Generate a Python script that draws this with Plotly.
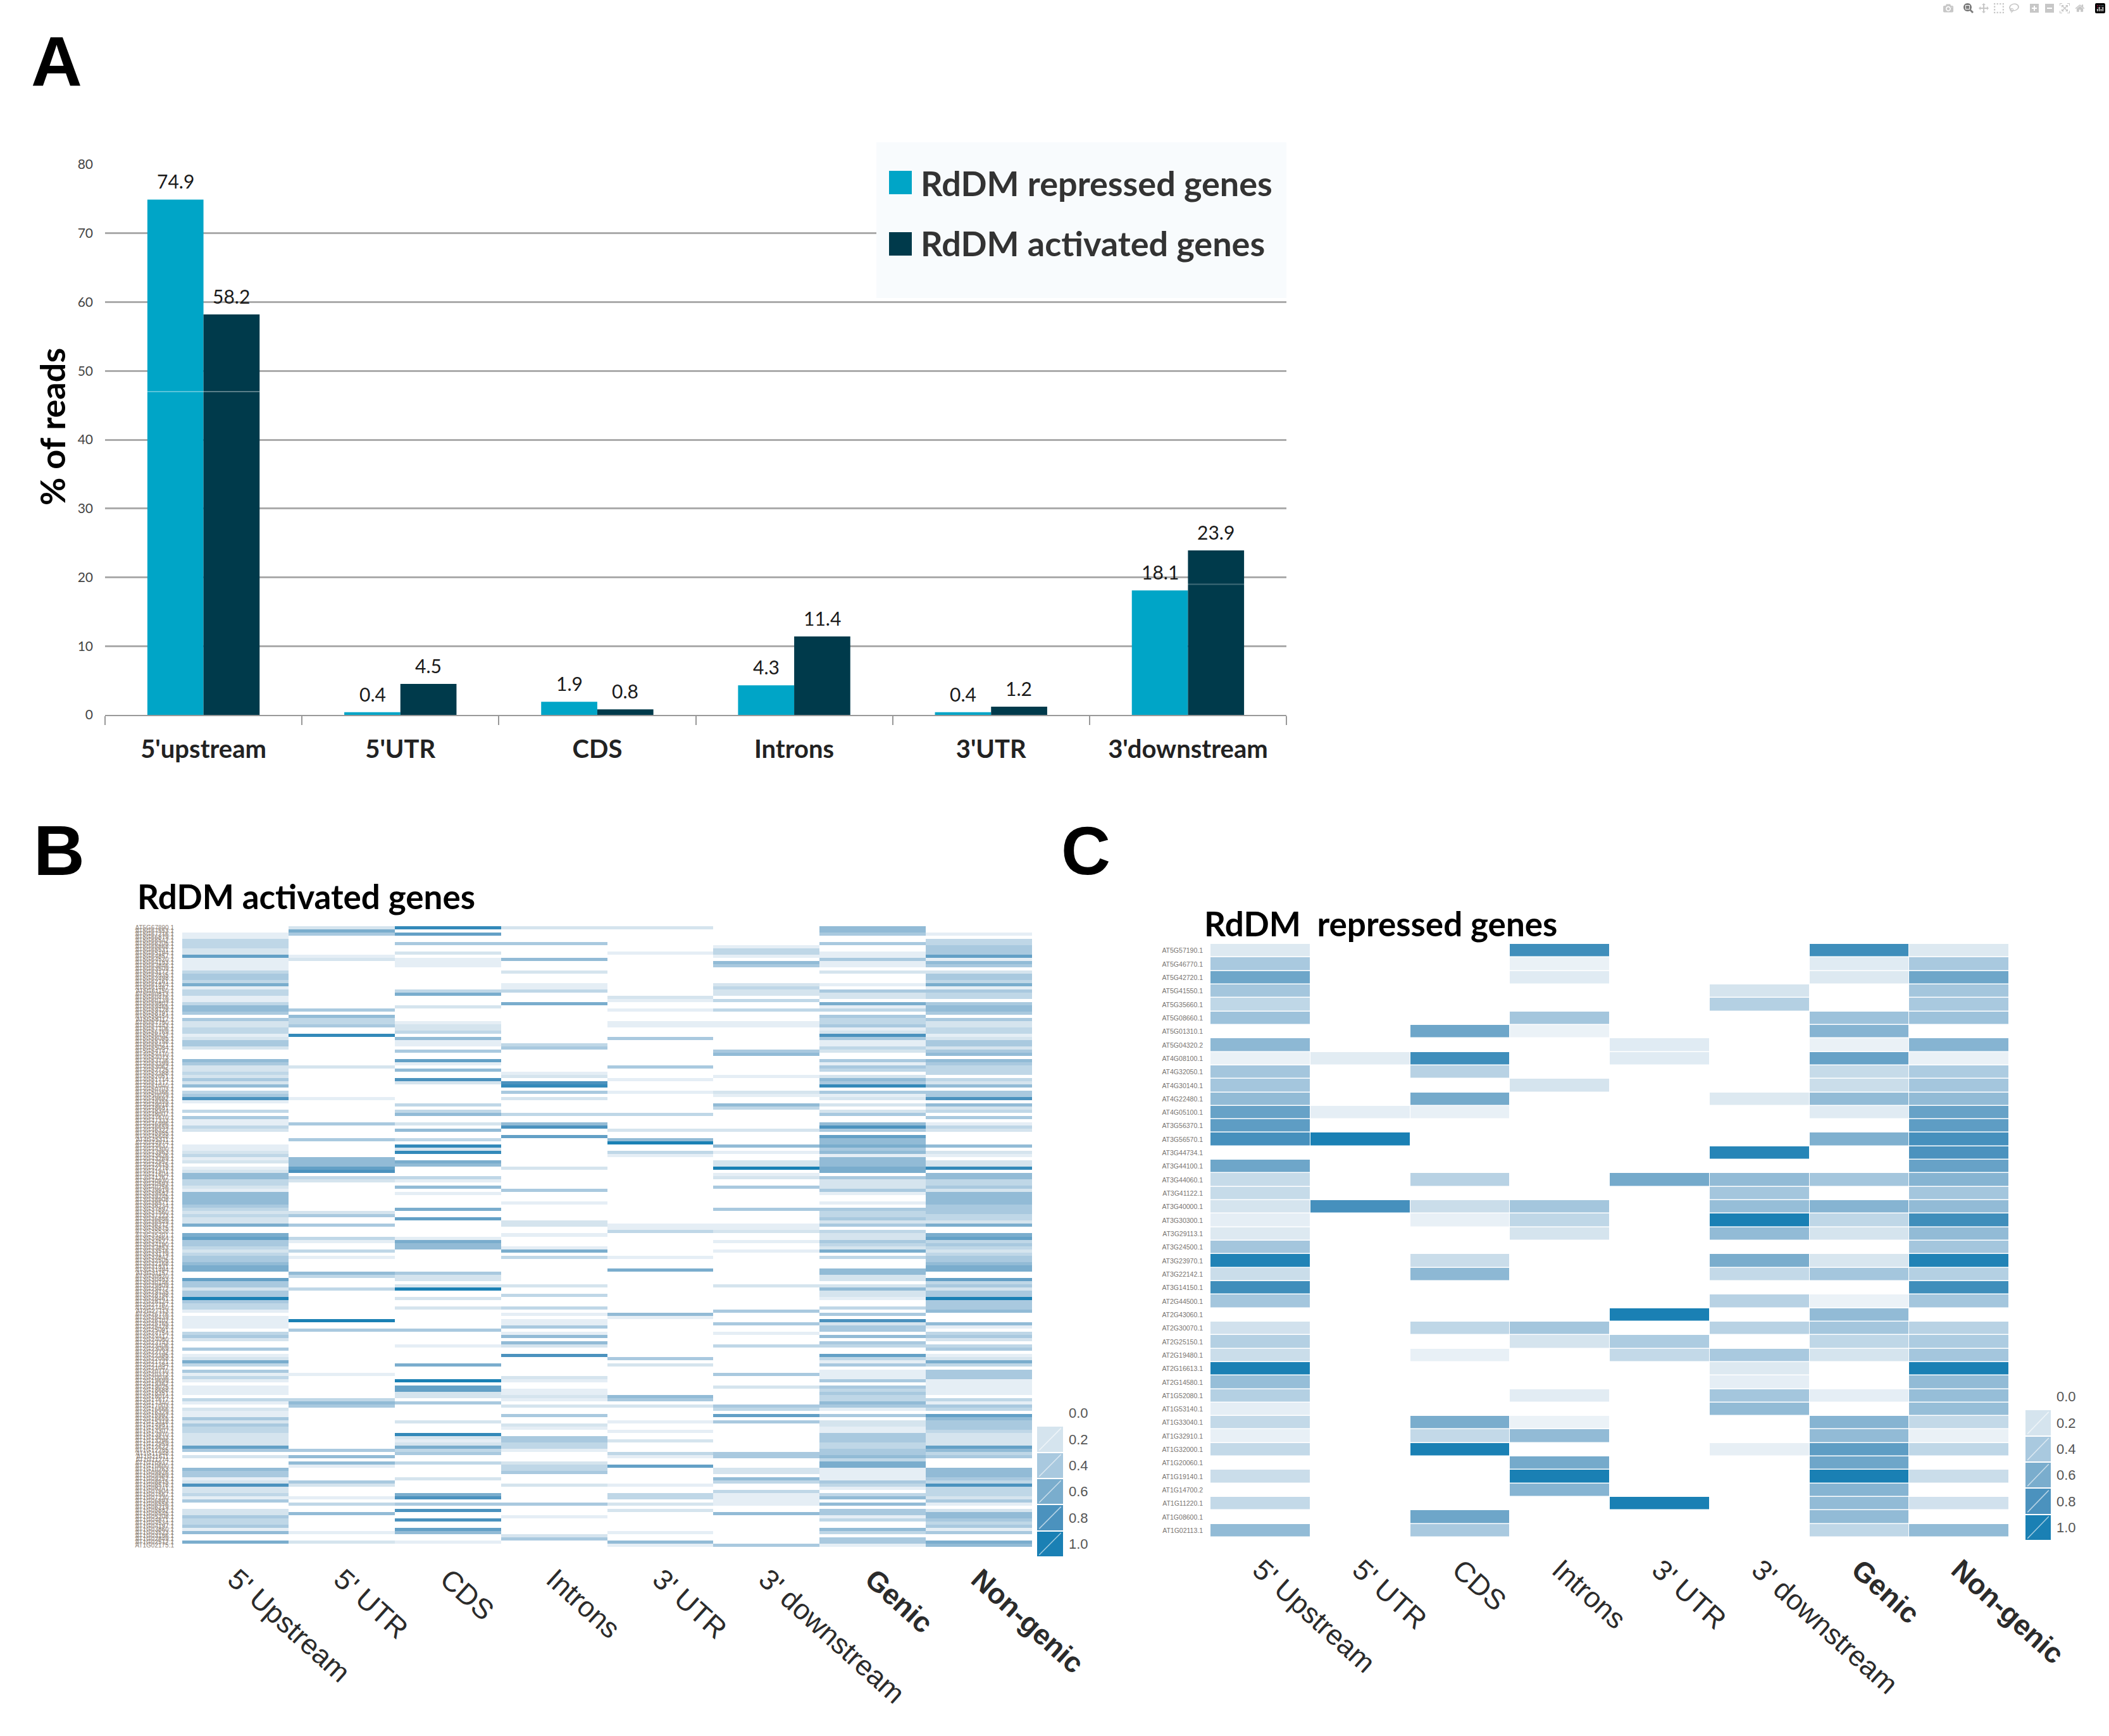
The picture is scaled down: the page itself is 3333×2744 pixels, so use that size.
import plotly.graph_objects as go

W, H = 3333, 2744

# ---- Panel A
regions = ["5'upstream", "5'UTR", "CDS", "Introns", "3'UTR", "3'downstream"]
repressed = [74.9, 0.4, 1.9, 4.3, 0.4, 18.1]
activated = [58.2, 4.5, 0.8, 11.4, 1.2, 23.9]

# ---- Panels B and C column labels
heat_cols = ["5' Upstream", "5' UTR", "CDS", "Introns", "3' UTR", "3' downstream", "<b>Genic</b>", "<b>Non-genic</b>"]
legend_labels = ["0.0", "0.2", "0.4", "0.6", "0.8", "1.0"]
legend_values = [None, 0.2, 0.4, 0.6, 0.8, 1.0]

# ---- Panel B: levels in tenths (0 = blank cell), read row by row
b_upstream = [
    0,0,1,1,3,3,3,2,2,7, 1,1,1,1,3,4,4,3,6,1, 3,3,1,1,3,5,5,4,0,4, 2,2,3,3,1,2,4,4,2,0, 0,0,5,4,2,2,3,2,4,2,
    5,0,3,4,8,1,0,0,3,0, 4,1,1,3,2,0,0,0,0,1, 1,2,3,1,2,0,1,2,5,5, 3,3,2,1,5,5,5,5,4,3, 2,3,2,2,6,0,0,6,
    7,4,4,3,2,3,4,4,5,6, 6,0,0,7,4,4,2,4,4,10, 4,3,3,1,0,1,1,1,1,0, 3,4,2,0,0,4,0,1,2,6, 3,0,4,1,3,1,0,1,1,1,
    0,3,1,0,2,1,1,4,2,4, 3,3,2,2,2,2,7,4,0,2, 0,0,0,5,4,4,1,2,8,2, 2,3,1,4,0,0,2,2,4,3, 3,4,1,5,0,0,6,0]
b_utr5 = [
    2,6,4,0,0,0,0,0,0,1, 2,0,0,0,0,0,0,0,0,0, 0,0,0,0,0,0,4,0,5,3, 3,4,0,0,9,0,0,0,0,0, 0,0,0,0,2,0,0,0,0,0,
    0,0,0,0,1,0,0,0,0,0, 0,0,4,0,0,0,0,4,0,0, 0,0,0,5,5,5,7,8,0,3, 2,0,0,0,0,0,0,0,0,0, 2,4,0,0,4,0,0,0,
    3,1,0,0,3,0,1,0,0,0, 0,5,3,0,0,0,3,0,0,0, 0,0,0,0,0,0,10,0,0,4, 0,0,0,0,0,0,0,0,0,0, 0,0,0,1,0,0,0,0,0,0,
    0,3,5,4,0,0,0,0,0,0, 0,0,0,0,0,0,0,4,0,5, 0,5,1,0,0,0,0,4,2,0, 0,0,1,0,3,0,0,5,0,0, 0,0,0,1,0,0,2,0]
b_cds = [
    9,0,7,0,0,4,0,0,2,0, 1,1,1,0,0,0,0,0,0,0, 3,6,0,0,0,2,0,0,0,0, 1,2,2,3,0,5,1,1,0,4, 0,0,7,1,0,5,0,0,8,2,
    0,0,0,0,0,0,3,0,3,5, 0,0,2,0,5,0,0,3,0,9, 2,9,0,0,6,5,0,0,0,3, 1,0,5,0,1,0,0,0,0,6, 0,0,7,0,0,0,0,0,
    1,6,5,5,0,0,0,0,0,0, 0,4,2,2,0,2,10,0,0,2, 0,0,2,0,0,0,0,0,0,4, 0,0,0,0,1,0,0,0,0,0, 6,0,0,0,0,10,0,7,7,2,
    2,0,4,0,0,0,0,0,2,0, 0,0,9,2,1,2,6,3,4,0, 0,3,0,0,0,0,2,0,0,0, 0,6,8,0,4,0,8,0,0,8, 0,0,7,5,0,0,1,0]
b_introns = [
    2,0,0,0,0,4,0,0,0,0, 5,0,0,0,2,0,0,0,1,1, 3,0,0,0,6,0,0,0,0,0, 0,0,0,0,0,0,0,3,4,0, 0,0,0,0,0,0,1,2,0,8,
    9,0,4,0,2,0,0,0,0,3, 0,0,5,8,0,0,7,0,0,0, 0,0,0,0,0,0,2,0,0,0, 0,0,0,4,0,0,0,1,0,0, 0,0,0,2,2,0,0,1,
    0,0,0,1,6,0,3,0,0,0, 0,0,0,0,0,2,0,0,3,0, 0,0,3,0,1,0,1,1,4,0, 1,5,0,5,2,0,0,8,0,0, 0,0,0,0,2,1,0,0,1,1,
    2,1,0,2,0,0,4,0,0,2, 1,0,0,4,4,3,3,1,0,0, 0,2,3,3,4,0,0,0,2,0, 0,0,0,0,4,0,0,0,1,0, 0,0,0,0,2,4,0,0]
b_utr3 = [
    2,0,0,0,0,0,0,0,1,0, 0,0,0,0,0,0,0,0,0,0, 0,0,2,1,0,0,1,0,0,0, 1,1,0,0,0,4,0,0,0,0, 0,0,0,0,4,0,0,0,1,0,
    0,0,1,0,0,0,0,0,0,3, 0,0,0,0,2,0,0,5,10,0, 0,3,1,0,0,0,0,0,0,0, 0,0,0,0,0,0,0,0,0,0, 0,0,0,0,1,1,3,0,
    0,0,0,0,0,0,1,0,0,0, 6,0,0,0,0,0,0,0,0,0, 0,0,0,0,5,1,0,0,0,0, 0,0,0,0,0,0,0,0,4,0, 2,0,0,0,0,0,0,0,0,0,
    5,4,0,2,0,0,0,0,1,0, 0,1,0,0,2,0,0,0,3,1, 0,0,7,0,0,0,0,0,1,0, 0,3,3,0,2,0,2,0,0,0, 0,0,0,1,0,0,5,1]
b_down3 = [
    0,0,0,0,0,0,1,3,3,1, 0,5,4,0,0,0,0,0,2,3, 2,2,0,3,0,0,3,0,0,0, 1,1,0,0,0,0,0,0,0,4, 5,0,0,0,0,0,0,1,0,0,
    0,0,2,1,0,0,5,3,0,0, 0,0,0,0,2,0,0,0,0,5, 0,1,0,0,2,2,10,0,1,2, 0,0,4,0,0,0,0,0,0,4, 0,0,0,0,1,1,2,0,
    0,1,0,0,1,0,0,0,0,0, 0,0,0,0,0,2,0,0,0,0, 0,0,0,4,0,0,0,4,0,0, 1,0,0,0,3,0,0,0,0,0, 0,0,0,4,0,0,0,2,0,0,
    0,0,0,4,3,0,7,0,4,0, 0,0,0,0,0,0,0,0,4,4, 0,0,0,2,2,0,5,3,0,0, 3,1,1,1,1,0,0,5,0,0, 0,0,0,0,0,0,0,4]
b_genic = [
    5,5,4,0,0,4,0,0,1,1, 4,1,1,0,2,0,0,0,1,0, 4,2,2,0,6,1,3,0,4,3, 3,4,1,2,8,4,1,1,3,2, 0,0,4,1,4,3,0,2,5,4,
    9,0,4,1,2,0,2,0,2,4, 0,0,5,8,4,0,7,5,5,6, 4,5,1,5,5,5,6,6,0,4, 2,2,2,4,1,0,0,1,0,4, 3,3,4,2,4,0,3,2,
    2,4,3,2,6,0,3,0,0,0, 5,5,2,2,0,2,5,2,2,1, 0,0,3,0,4,0,8,2,4,4, 0,5,0,4,3,0,0,7,3,1, 4,0,1,1,1,4,0,4,3,4,
    3,3,5,4,1,0,4,0,2,2, 1,1,4,4,4,3,3,4,4,5, 3,6,6,1,1,1,1,4,3,1, 0,3,5,0,5,0,4,4,1,3, 0,0,5,3,0,4,4,1]
b_nongenic = [
    0,0,1,0,3,3,4,4,4,7, 1,5,4,0,2,4,4,3,6,1, 4,3,3,0,4,5,5,4,0,4, 2,2,3,3,1,2,4,4,2,4, 5,0,5,4,3,3,3,0,3,2,
    5,0,4,4,8,0,5,2,3,0, 4,0,1,3,2,0,0,0,0,5, 0,2,1,0,2,2,9,0,5,5, 3,3,4,2,5,5,5,5,4,4, 4,3,3,2,6,0,0,6,
    7,3,4,3,2,3,4,4,5,6, 6,0,0,7,3,4,2,4,4,10, 4,4,4,5,0,0,0,5,1,0, 3,4,2,0,3,4,0,1,2,6, 3,0,4,4,4,1,1,1,1,1,
    0,3,1,4,3,0,7,5,4,4, 4,3,2,2,2,2,7,5,3,4, 0,0,0,5,5,5,4,3,8,3, 3,3,2,4,1,0,2,5,5,4, 3,4,1,4,0,0,6,5]

# ---- Panel C: gene ids and per-column values (0 = blank cell)
c_genes = ["AT5G57190.1","AT5G46770.1","AT5G42720.1","AT5G41550.1","AT5G35660.1","AT5G08660.1","AT5G01310.1","AT5G04320.2",
           "AT4G08100.1","AT4G32050.1","AT4G30140.1","AT4G22480.1","AT4G05100.1","AT3G56370.1","AT3G56570.1","AT3G44734.1",
           "AT3G44100.1","AT3G44060.1","AT3G41122.1","AT3G40000.1","AT3G30300.1","AT3G29113.1","AT3G24500.1","AT3G23970.1",
           "AT3G22142.1","AT3G14150.1","AT2G44500.1","AT2G43060.1","AT2G30070.1","AT2G25150.1","AT2G19480.1","AT2G16613.1",
           "AT2G14580.1","AT1G52080.1","AT1G53140.1","AT1G33040.1","AT1G32910.1","AT1G32000.1","AT1G20060.1","AT1G19140.1",
           "AT1G14700.2","AT1G11220.1","AT1G08600.1","AT1G02113.1"]
c_upstream = [.15,.4,.65,.42,.3,.45,0,.52,.07,.42,.42,.5,.68,.72,.82,0,.65,.27,.27,.2,.1,.15,.42,.97,.25,.85,.42,0,.22,.35,.25,1.0,.48,.35,.1,.28,.08,.28,0,.25,0,.28,0,.5]
c_utr5 = [0,0,0,0,0,0,0,0,.12,0,0,0,.1,0,1.0,0,0,0,0,.82,0,0,0,0,0,0,0,0,0,0,0,0,0,0,0,0,0,0,0,0,0,0,0,0]
c_cds = [0,0,0,0,0,0,.65,0,.85,.33,0,.62,.08,0,0,0,0,.33,0,.25,.08,0,0,.25,.52,0,0,0,.3,0,.08,0,0,0,0,.6,.28,1.0,0,0,0,0,.65,.4]
c_introns = [.85,.07,.13,0,0,.42,.06,0,0,0,.2,0,0,0,0,0,0,0,0,.42,.3,.2,0,0,0,0,0,0,.42,.2,0,0,0,.12,0,.06,.5,0,.62,1.0,.55,0,0,0]
c_utr3 = [0,0,0,0,0,0,0,.13,.13,0,0,0,0,0,0,0,0,.62,0,0,0,0,0,0,0,0,0,1.0,0,.38,.28,0,0,0,0,0,0,0,0,0,0,1.0,0,0]
c_down3 = [0,0,0,.2,.35,0,0,0,0,0,0,.15,0,0,0,.95,0,.5,.42,.48,1.0,.5,0,.6,.28,0,.33,0,.33,0,.4,.15,.1,.42,.5,0,0,.09,0,0,0,0,0,0]
c_genic = [.85,.13,.15,0,0,.45,.55,.07,.68,.27,.25,.5,.13,0,.58,0,0,.42,0,.55,.3,.2,0,.18,.42,0,.06,.5,.42,.3,.2,0,0,.1,0,.55,.5,.72,.65,1.0,.55,.5,.5,.3]
c_nongenic = [.15,.4,.65,.42,.4,.45,0,.55,.07,.38,.42,.5,.68,.72,.82,.8,.68,.55,.42,.5,.85,.5,.42,.97,.35,.85,.42,0,.33,.38,.42,1.0,.5,.48,.48,.28,.07,.3,0,.25,0,.22,0,.5]

COLORSCALE = [[0, "#f5f8fb"], [0.2, "#d5e4ee"], [0.4, "#a9c9df"], [0.6, "#7aadcd"], [0.8, "#4b92be"], [1, "#1a80b4"]]
LIGHT, DARK = "#00a5c7", "#003a4b"
SANS, CAL = "Liberation Sans", "Lato"

def fx(px): return px / W
def fy(py): return 1 - py / H

b_cols = [b_upstream, b_utr5, b_cds, b_introns, b_utr3, b_down3, b_genic, b_nongenic]
c_cols = [c_upstream, c_utr5, c_cds, c_introns, c_utr3, c_down3, c_genic, c_nongenic]
b_z = [[(col[i] / 10 if col[i] else None) for col in b_cols] for i in range(len(b_upstream))]
c_z = [[(col[i] if col[i] else None) for col in c_cols] for i in range(len(c_upstream))]
# gene ids of panel B are illegible at this size: a column of tiny locus-like ids
b_genes = [f"AT{5 - i * 5 // len(b_z)}G{(67890 - i * 337) % 69000:05d}.1" for i in range(len(b_z))]

fig = go.Figure()
fig.add_bar(x=regions, y=repressed, name="RdDM repressed genes", marker_color=LIGHT, marker_line_width=0, xaxis="x", yaxis="y")
fig.add_bar(x=regions, y=activated, name="RdDM activated genes", marker_color=DARK, marker_line_width=0, xaxis="x", yaxis="y")

common = dict(zmin=0, zmax=1, colorscale=COLORSCALE, showscale=False, hoverongaps=False)
fig.add_heatmap(z=b_z, x=list(range(8)), y=list(range(len(b_z))), xaxis="x2", yaxis="y2", **common)
fig.add_heatmap(z=c_z, x=list(range(8)), y=list(range(len(c_z))), xgap=1, ygap=1.5, xaxis="x3", yaxis="y3", **common)

for xa, ya in (("x4", "y4"), ("x5", "y5")):
    fig.add_heatmap(z=[[v] for v in legend_values], x=[0], y=list(range(6)), ygap=2, xaxis=xa, yaxis=ya, **common)
    dx, dy = [], []
    for r in range(1, 6):
        dx += [-0.42, 0.42, None]
        dy += [r + 0.42, r - 0.42, None]
    fig.add_scatter(x=dx, y=dy, mode="lines", line=dict(color="rgba(255,255,255,0.6)", width=1.5),
                    hoverinfo="skip", showlegend=False, xaxis=xa, yaxis=ya)

def hidden(**kw):
    return dict(visible=False, **kw)

heat_x = lambda dom, anchor: dict(domain=dom, anchor=anchor, range=[-0.5, 7.5], tickmode="array",
                                  tickvals=list(range(8)), ticktext=heat_cols, tickangle=42, ticks="",
                                  showgrid=False, zeroline=False, showline=False, ticklabelstandoff=15,
                                  tickfont=dict(family=SANS, size=45, color="#2b2b2b"))
heat_y = lambda dom, anchor, labels, size, col, off: dict(domain=dom, anchor=anchor, range=[len(labels) - 0.5, -0.5],
                                  tickmode="array", tickvals=list(range(len(labels))), ticktext=labels, ticks="",
                                  showgrid=False, zeroline=False, showline=False, ticklabelstandoff=off,
                                  tickfont=dict(family=SANS, size=size, color=col))
leg_y = lambda dom, anchor: dict(domain=dom, anchor=anchor, side="right", range=[5.5, -0.5], tickmode="array",
                                 tickvals=list(range(6)), ticktext=legend_labels, ticks="", showgrid=False,
                                 zeroline=False, showline=False, ticklabelstandoff=8,
                                 tickfont=dict(family=SANS, size=22, color="#555555"))

annots = []
for series, sign in ((repressed, -1), (activated, 1)):
    for reg, v in zip(regions, series):
        annots.append(dict(x=reg, y=v, xref="x", yref="y", text=f"{v:.1f}", showarrow=False, xshift=sign * 44,
                           yshift=29, yanchor="middle", font=dict(family=CAL, size=30, color="#1a1a1a")))

def txt(px, py, s, size, family=CAL, anchor="center", angle=0, color="#000000"):
    annots.append(dict(x=fx(px), y=fy(py), xref="paper", yref="paper", text=s, showarrow=False, xanchor=anchor,
                       yanchor="middle", textangle=angle, font=dict(family=family, size=size, color=color)))

txt(89, 98, "<b>A</b>", 112, SANS)
txt(93, 1344, "<b>B</b>", 112, SANS)
txt(1716, 1344, "<b>C</b>", 108, SANS)
txt(484, 1416, "<b>RdDM activated genes</b>", 53)
txt(2182, 1459, "<b>RdDM  repressed genes</b>", 53)
txt(83, 675, "<b>% of reads</b>", 54, angle=-90)
txt(1453, 289, "<b>RdDM repressed genes</b>", 54, anchor="left", color="#333333")
txt(1453, 385, "<b>RdDM activated genes</b>", 54, anchor="left", color="#333333")

shapes = [
    dict(type="rect", xref="paper", yref="paper", x0=fx(1385), x1=fx(2033), y0=fy(225), y1=fy(471),
         fillcolor="#f8fbfd", line_width=0, layer="above"),
    dict(type="rect", xref="paper", yref="paper", x0=fx(1405), x1=fx(1441), y0=fy(270), y1=fy(307),
         fillcolor=LIGHT, line_width=0, layer="above"),
    dict(type="rect", xref="paper", yref="paper", x0=fx(1405), x1=fx(1441), y0=fy(367), y1=fy(404),
         fillcolor=DARK, line_width=0, layer="above"),
    dict(type="line", xref="x", yref="y", x0=-0.285, x1=0.285, y0=47, y1=47,
         line=dict(color="rgba(255,255,255,0.35)", width=2), layer="above"),
    dict(type="line", xref="x", yref="y", x0=4.715, x1=5.285, y0=19, y1=19,
         line=dict(color="rgba(255,255,255,0.25)", width=2), layer="above"),
]

fig.update_layout(
    width=W, height=H, margin=dict(l=0, r=0, t=0, b=0, autoexpand=False), paper_bgcolor="white", plot_bgcolor="white",
    showlegend=False, barmode="group", bargap=0.43, bargroupgap=0, annotations=annots, shapes=shapes,
    xaxis=dict(domain=[fx(166), fx(2033)], anchor="y", type="category", tickson="boundaries", ticks="outside",
               ticklen=14, tickcolor="#999999", tickwidth=2, showline=True, linecolor="#999999", linewidth=2,
               showgrid=False, ticklabelstandoff=18, tickfont=dict(family=CAL, size=40, color="#222222", weight="bold")),
    yaxis=dict(domain=[fy(1130), fy(260)], anchor="x", range=[0, 80], tickmode="array", tickvals=list(range(0, 81, 10)),
               ticks="", showgrid=True, gridcolor="#ababab", gridwidth=2.5, zeroline=False, showline=False,
               ticklabelstandoff=18, tickfont=dict(family=CAL, size=21, color="#444444")),
    xaxis2=heat_x([fx(288), fx(1631)], "y2"),
    yaxis2=heat_y([fy(2445), fy(1464)], "x2", b_genes, 10, "#8f8378", 12),
    xaxis3=heat_x([fx(1913), fx(3175)], "y3"),
    yaxis3=heat_y([fy(2430), fy(1492)], "x3", c_genes, 10.5, "#77736f", 11),
    xaxis4=hidden(domain=[fx(1639), fx(1680)], anchor="y4", range=[-0.5, 0.5]),
    yaxis4=leg_y([fy(2461), fy(2213)], "x4"),
    xaxis5=hidden(domain=[fx(3201), fx(3241)], anchor="y5", range=[-0.5, 0.5]),
    yaxis5=leg_y([fy(2435), fy(2187)], "x5"),
)

fig.write_html("out.html", post_script="document.body.style.margin='0';")
